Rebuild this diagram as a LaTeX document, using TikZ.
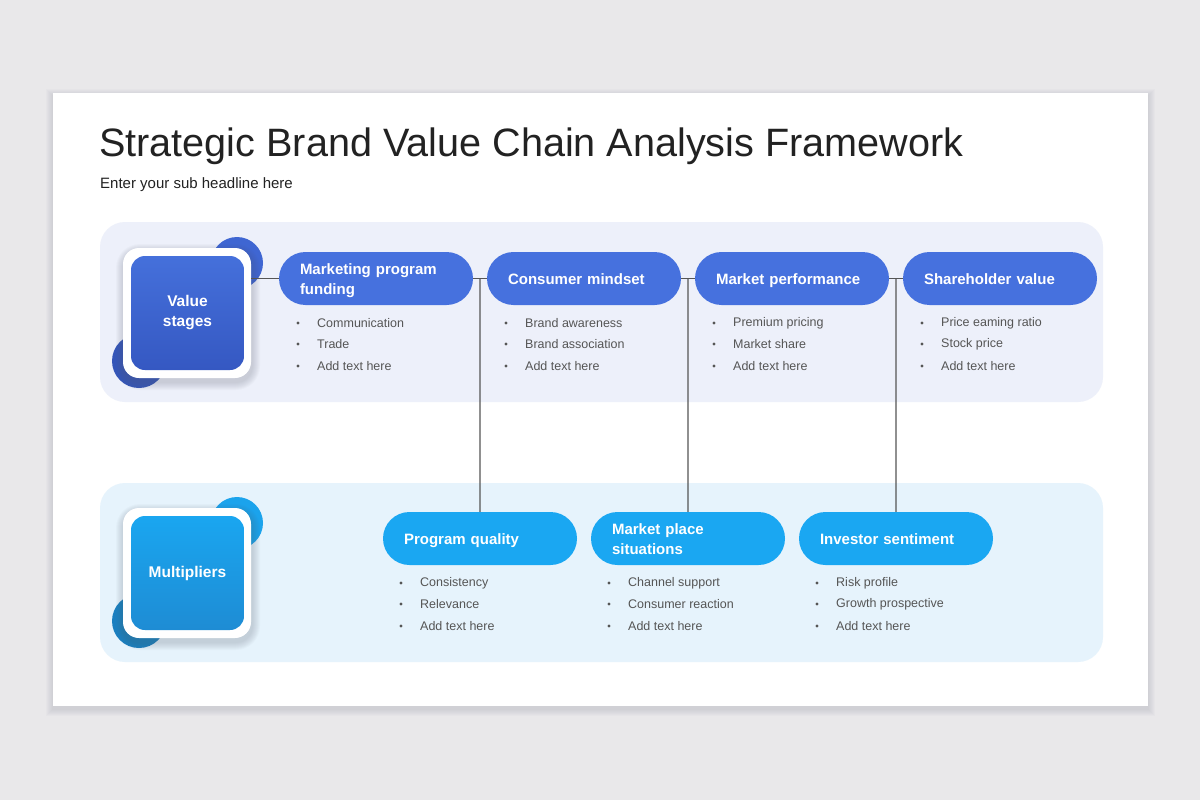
\documentclass[tikz,border=0pt]{standalone}
\usepackage{fontspec}
\setmainfont{Liberation Sans}
\usetikzlibrary{calc}
\definecolor{pagebg}{HTML}{E9E8EA}
\definecolor{bandA}{HTML}{EDF0FA}
\definecolor{bandB}{HTML}{E6F3FC}
\definecolor{pillA}{HTML}{4671DE}
\definecolor{pillB}{HTML}{1AA7F2}
\definecolor{iconAtop}{HTML}{4570DB}
\definecolor{iconAbot}{HTML}{3558C2}
\definecolor{iconBtop}{HTML}{1AA6F0}
\definecolor{iconBbot}{HTML}{1E8CD4}
\definecolor{circA}{HTML}{3F66D2}
\definecolor{circAd}{HTML}{3455B8}
\definecolor{circB}{HTML}{1BA3EC}
\definecolor{circBd}{HTML}{1A7FC0}
\definecolor{titlecol}{HTML}{222222}
\definecolor{bodycol}{HTML}{555555}
\definecolor{linecol}{HTML}{555555}
\definecolor{shadowcol}{HTML}{5A6070}
\newcommand\pst{\rule[-4pt]{0pt}{19pt}}
\tikzset{
  pill/.style={rounded corners=26.5pt, minimum width=194pt, minimum height=53pt,
    inner sep=0pt, text=white, font=\bfseries\fontsize{15}{18.5}\selectfont,
    align=left, text width=152pt},
  pillA/.style={pill, fill=pillA},
  pillB/.style={pill, fill=pillB},
  bul/.style={anchor=west, text=bodycol, font=\fontsize{12.5}{14}\selectfont, inner sep=0pt},
  dot/.style={circle, fill=bodycol, inner sep=0pt, minimum size=3.2pt},
  conn/.style={draw=linecol, line width=1.2pt},
  whitebox/.style={fill=white, rounded corners=16pt, minimum width=128pt, minimum height=130pt},
  iconlbl/.style={text=white, font=\bfseries\fontsize{15.5}{20}\selectfont, align=center}
}
\begin{document}
\begin{tikzpicture}[x=1pt,y=-1pt]
\useasboundingbox (0,0) rectangle (1200,800);
\fill[pagebg] (0,0) rectangle (1200,800);
% card with soft shadow
\foreach \k in {1,...,7}{
  \fill[shadowcol, opacity=0.025] (53-\k,93-\k+3) rectangle (1148+\k,706+\k+3);
}
\fill[white] (53,93) rectangle (1148,706);
% title
\node[anchor=base west, inner sep=0pt, text=titlecol, font=\fontsize{39.6}{44}\selectfont] (title) at (99,156) {Strategic Brand Value Chain Analysis Framework};
\node[anchor=base west, inner sep=0pt, text=titlecol, font=\fontsize{15}{16}\selectfont] (sub) at (100,188) {Enter your sub headline here};
% bands
\fill[bandA, rounded corners=25pt] (100,222) rectangle (1103,402);
\fill[bandB, rounded corners=25pt] (100,483) rectangle (1103,662);

% ---- top icon
\fill[circA] (237,263) circle (26);
\fill[circAd] (139,361) circle (27);
\fill[circA!55!white, opacity=0.75] (150,352) circle (26);
\foreach \k in {1,...,8}{
  \fill[shadowcol, opacity=0.03, rounded corners=16pt+\k pt] (123-\k+1,248-\k+4) rectangle (251+\k+1,378+\k+4);
}
\node[whitebox] (vsbox) at (187,313) {};
\node[rounded corners=14pt, minimum width=113pt, minimum height=114pt, top color=iconAtop, bottom color=iconAbot, draw=none, inner sep=0pt, iconlbl] (vs) at (187.5,313) {Value\\stages};

% ---- bottom icon
\fill[circB] (237,523) circle (26);
\fill[circBd] (139,621) circle (27);
\fill[circB!55!white, opacity=0.75] (150,612) circle (26);
\foreach \k in {1,...,8}{
  \fill[shadowcol, opacity=0.03, rounded corners=16pt+\k pt] (123-\k+1,508-\k+4) rectangle (251+\k+1,638+\k+4);
}
\node[whitebox] (mubox) at (187,573) {};
\node[rounded corners=14pt, minimum width=113pt, minimum height=114pt, top color=iconBtop, bottom color=iconBbot, draw=none, inner sep=0pt, iconlbl] (mu) at (187.5,573) {Multipliers};

% ---- top pills
\node[pillA] (p1) at (376,278.5) {\pst Marketing program\\\pst funding};
\node[pillA] (p2) at (584,278.5) {\pst Consumer mindset};
\node[pillA] (p3) at (792,278.5) {\pst Market performance};
\node[pillA] (p4) at (1000,278.5) {\pst Shareholder value};
% ---- bottom pills
\node[pillB] (q1) at (480,538.5) {\pst Program quality};
\node[pillB] (q2) at (688,538.5) {\pst Market place\\\pst situations};
\node[pillB] (q3) at (896,538.5) {\pst Investor sentiment};

% ---- connectors
\coordinate (j1) at ($(p1.east)!0.5!(p2.west)$);
\coordinate (j2) at ($(p2.east)!0.5!(p3.west)$);
\coordinate (j3) at ($(p3.east)!0.5!(p4.west)$);
\draw[conn] (vsbox.east |- p1.west) -- (p1.west);
\draw[conn] (p1.east) -- (p2.west);
\draw[conn] (p2.east) -- (p3.west);
\draw[conn] (p3.east) -- (p4.west);
\draw[conn] (j1) -- (q1.north);
\draw[conn] (j2) -- (q2.north);
\draw[conn] (j3) -- (q3.north);

% ---- bullets top
\foreach \px/\a/\b/\c [count=\i] in {298/Communication/Trade/Add text here,
                          506/Brand awareness/Brand association/Add text here,
                          714/Premium pricing/Market share/Add text here,
                          922/Price eaming ratio/Stock price/Add text here}{
  \node[dot] (td\i a) at (\px,323) {};
  \node[bul] (tb\i a) at (\px+19,323) {\a};
  \node[dot] (td\i b) at (\px,344) {};
  \node[bul] (tb\i b) at (\px+19,344) {\b};
  \node[dot] (td\i c) at (\px,366) {};
  \node[bul] (tb\i c) at (\px+19,366) {\c};
}
% ---- bullets bottom
\foreach \px/\a/\b/\c [count=\i] in {401/Consistency/Relevance/Add text here,
                          609/Channel support/Consumer reaction/Add text here,
                          817/Risk profile/Growth prospective/Add text here}{
  \node[dot] (bd\i a) at (\px,583) {};
  \node[bul] (bb\i a) at (\px+19,583) {\a};
  \node[dot] (bd\i b) at (\px,604) {};
  \node[bul] (bb\i b) at (\px+19,604) {\b};
  \node[dot] (bd\i c) at (\px,626) {};
  \node[bul] (bb\i c) at (\px+19,626) {\c};
}
\end{tikzpicture}
\end{document}
